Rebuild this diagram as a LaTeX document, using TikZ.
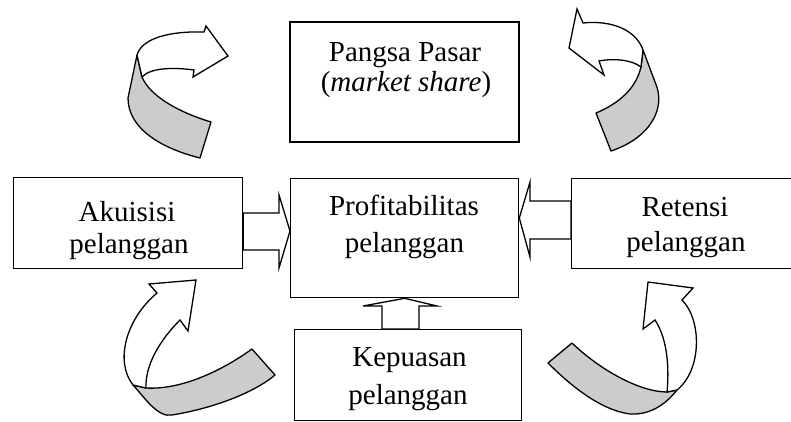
\documentclass[tikz,border=0pt]{standalone}
\usepackage{fontspec}
\setmainfont{Liberation Serif}
\definecolor{ribbon}{RGB}{204,204,204}
\begin{document}
\begin{tikzpicture}[x=1pt,y=-1pt,
  box/.style={draw,line width=1.3pt,fill=white},
  label/.style={inner sep=0pt,anchor=base,font=\fontsize{29}{34}\selectfont},
  blockarrow/.style={draw,line width=1.3pt,fill=white,line join=miter},
  band/.style={draw,line width=1.3pt,fill=ribbon,line join=round},
  bandhead/.style={draw,line width=1.3pt,fill=white,line join=miter}]
\useasboundingbox (0,0) rectangle (791,422);
\clip (0,0) rectangle (791,422);

% boxes
\draw[box] (290,22) rectangle (519,142);
\node[box,minimum width=229pt,minimum height=91pt,anchor=north west] (akuisisi) at (13,177) {};
\node[box,minimum width=228pt,minimum height=119pt,anchor=north west] (profit) at (290,178) {};
\node[box,minimum width=230pt,minimum height=90pt,anchor=north west] (retensi) at (571,178) {};
\node[box,minimum width=227pt,minimum height=91pt,anchor=north west] (kepuasan) at (294,329) {};
\coordinate (pangsa) at (404.5,82);

% texts
\node[label] (t-pangsa1) at (405,61.5) {Pangsa Pasar};
\node[label] (t-pangsa2) at (406,92) {(\textit{market share})};
\node[label] (t-akui1) at (127,221.5) {Akuisisi};
\node[label] (t-akui2) at (129,253) {pelanggan};
\node[label] (t-prof1) at (404,215) {Profitabilitas};
\node[label] (t-prof2) at (404.5,252.5) {pelanggan};
\node[label] (t-ret1) at (685,216.5) {Retensi};
\node[label] (t-ret2) at (686,251.5) {pelanggan};
\node[label] (t-kep1) at (409.5,366.5) {Kepuasan};
\node[label] (t-kep2) at (408,404) {pelanggan};

% block arrows into the central box
\draw[blockarrow] (akuisisi.east |- 0,213) -- (279,213) -- (279,195) -- (profit.west |- 0,231)
  -- (279,268) -- (279,250) -- (akuisisi.east |- 0,250) -- cycle;
\draw[blockarrow] (retensi.west |- 0,201) -- (530,201) -- (530,182) -- (profit.east |- 0,218)
  -- (530,257) -- (530,239) -- (retensi.west |- 0,239) -- cycle;
\draw[blockarrow] (382,0 |- kepuasan.north) -- (382,306) -- (363,306) -- (profit.south)
  -- (437,306) -- (419,306) -- (419,0 |- kepuasan.north) -- cycle;

% curved ribbon arrow, top left
\draw[band] (137,55) -- (128,98) .. controls (128,128) and (160,148) .. (200,158)
  -- (211,122) .. controls (178,112) and (150,96) .. (142,77) -- cycle;
\draw[bandhead] (137,55) .. controls (142,38) and (170,31) .. (204,32) -- (206,26) -- (228,56)
  -- (193,77) -- (194,70) .. controls (172,67) and (150,68) .. (142,77) -- cycle;

% curved ribbon arrow, top right
\draw[band] (643,50) -- (655,82) .. controls (667,108) and (650,138) .. (611,151)
  -- (596,113) .. controls (620,103) and (636,88) .. (641,67) -- cycle;
\draw[bandhead] (643,50) .. controls (636,30) and (612,20) .. (583,23) -- (577,9) -- (569,48)
  -- (604,75) -- (599,61) .. controls (615,58) and (632,60) .. (641,67) -- cycle;

% curved ribbon arrow, bottom left
\draw[band] (133,385) .. controls (145,398) and (158,418) .. (172,415)
  .. controls (215,408) and (255,392) .. (275,375) -- (252,349)
  .. controls (220,372) and (180,390) .. (146,388) -- cycle;
\draw[bandhead] (133,385) .. controls (115,362) and (125,320) .. (157,293) -- (149,284) -- (196,280)
  -- (188,331) -- (180,320) .. controls (160,340) and (145,365) .. (146,388) -- cycle;

% curved ribbon arrow, bottom right
\draw[band] (548,363) -- (572,343) .. controls (600,370) and (640,392) .. (667,392) -- (677,390)
  .. controls (665,405) and (650,415) .. (630,414) .. controls (600,410) and (570,385) .. (548,363) -- cycle;
\draw[bandhead] (682,300) .. controls (702,320) and (702,370) .. (677,390) -- (667,392)
  .. controls (670,360) and (665,335) .. (655,320) -- (643,329) -- (648,282) -- (693,288) -- cycle;
\end{tikzpicture}
\end{document}
